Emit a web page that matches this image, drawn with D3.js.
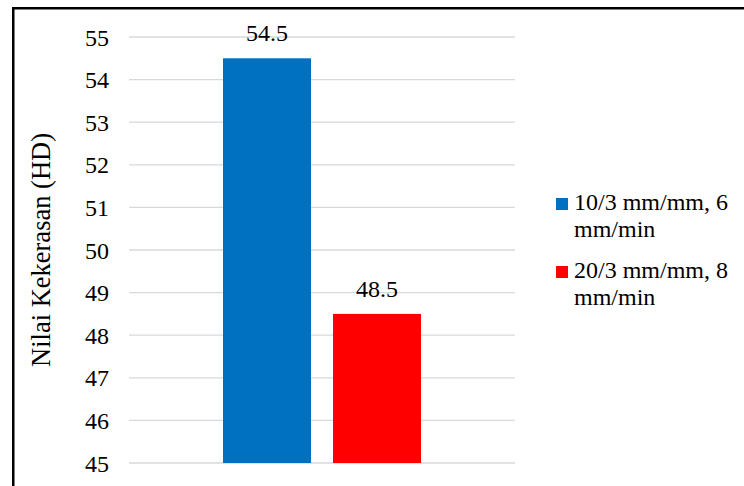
<!DOCTYPE html>
<html>
<head>
<meta charset="utf-8">
<script src="https://cdn.jsdelivr.net/npm/d3@7"></script>
<style>
  html, body { margin: 0; padding: 0; background: #fff; }
  svg { display: block; }
  text { font-family: "Liberation Serif", "Times New Roman", Times, serif; fill: #000; }
</style>
</head>
<body>
<svg id="chart" width="744" height="486"></svg>
<script>
// Hardness values per process setting
const categories = ["Nilai"];
const seriesNames = ["10/3 mm/mm, 6 mm/min", "20/3 mm/mm, 8 mm/min"];
const legendLines = [["10/3 mm/mm, 6", "mm/min"], ["20/3 mm/mm, 8", "mm/min"]];
const seriesValues = [54.5, 48.5];
const seriesColors = ["#0070C0", "#FF0000"];
const tickValues = [45, 46, 47, 48, 49, 50, 51, 52, 53, 54, 55];
const axisTitle = "Nilai Kekerasan (HD)";

const svg = d3.select("#chart");

// Outer frame (only left and top edges fall inside the view)
svg.append("rect")
  .attr("x", 13.25).attr("y", 8.25)
  .attr("width", 800).attr("height", 600)
  .attr("fill", "none").attr("stroke", "#000").attr("stroke-width", 2.5);

const plot = { left: 129, right: 515, top: 37, bottom: 463 };

const y = d3.scaleLinear().domain([45, 55]).range([plot.bottom, plot.top]);

const x0 = d3.scaleBand().domain(categories)
  .range([plot.left, plot.right]).paddingInner(0).paddingOuter(0.4747);
const x1 = d3.scaleBand().domain(seriesNames)
  .range([0, x0.bandwidth()]).paddingInner(0.2).paddingOuter(0);

// Gridlines
svg.append("g")
  .selectAll("line").data(tickValues).join("line")
  .attr("x1", plot.left).attr("x2", plot.right)
  .attr("y1", d => y(d)).attr("y2", d => y(d))
  .attr("stroke", "#d9d9d9").attr("stroke-width", 1.3);

// Y axis labels
const yAxis = d3.axisLeft(y).tickValues(tickValues).tickSize(0).tickPadding(0)
  .tickFormat(d3.format("d"));
const gy = svg.append("g").attr("transform", `translate(${109},0)`).call(yAxis);
gy.attr("font-family", null).attr("font-size", null);
gy.select(".domain").remove();
gy.selectAll("text")
  .attr("font-size", 24).attr("fill", "#000").attr("dy", "0.34em");

// Axis title
svg.append("text")
  .attr("transform", `translate(50,${(132 + 368) / 2}) rotate(-90)`)
  .attr("text-anchor", "middle")
  .attr("font-size", 26.5)
  .text(axisTitle);

// Bars
const barData = seriesNames.map((s, i) => ({ cat: categories[0], name: s, value: seriesValues[i], color: seriesColors[i] }));
const bars = svg.append("g");
bars.selectAll("rect").data(barData).join("rect")
  .attr("x", d => x0(d.cat) + x1(d.name))
  .attr("width", x1.bandwidth())
  .attr("y", d => y(d.value))
  .attr("height", d => y(45) - y(d.value))
  .attr("fill", d => d.color);

// Value labels
bars.selectAll("text").data(barData).join("text")
  .attr("x", d => x0(d.cat) + x1(d.name) + x1.bandwidth() / 2)
  .attr("y", d => y(d.value) - 17)
  .attr("text-anchor", "middle")
  .attr("font-size", 24)
  .text(d => d.value.toFixed(1));

// Legend
const legend = svg.append("g");
const legendTop = [198, 266];
seriesNames.forEach((s, i) => {
  const g = legend.append("g").attr("transform", `translate(556,${legendTop[i]})`);
  g.append("rect").attr("width", 12).attr("height", 12).attr("fill", seriesColors[i]);
  g.selectAll("text").data(legendLines[i]).join("text")
    .attr("x", 18)
    .attr("y", (d, j) => 12 + j * 27)
    .attr("font-size", 24)
    .text(d => d);
});
</script>
</body>
</html>
